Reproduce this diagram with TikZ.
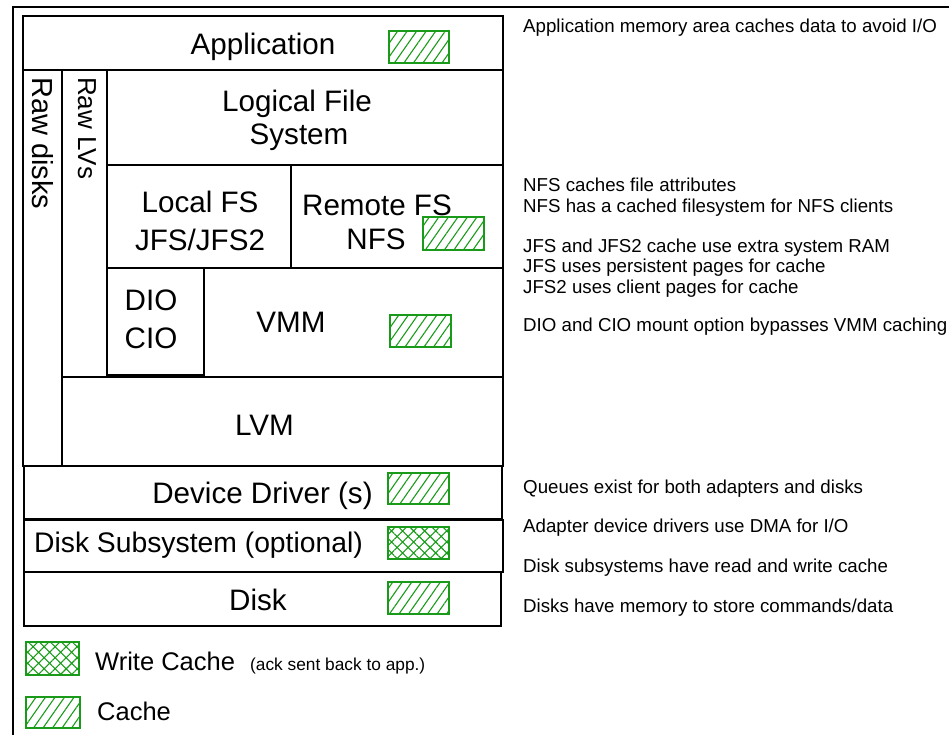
\documentclass[tikz,border=0pt]{standalone}
\usepackage{fontspec}
\setmainfont{Liberation Sans}
\usetikzlibrary{patterns.meta}
\definecolor{cachegreen}{RGB}{25,155,25}
\tikzset{
  layer/.style={draw=black, line width=1.1pt, rectangle, inner sep=0pt, outer sep=0pt, anchor=north west},
  cachebox/.style={draw=cachegreen, line width=1.1pt, rectangle, inner sep=0pt, outer sep=0pt, anchor=north west,
    pattern={Lines[angle=55, distance=7.8pt, line width=1.1pt]}, pattern color=cachegreen},
  wcachebox/.style={draw=cachegreen, line width=1.1pt, rectangle, inner sep=0pt, outer sep=0pt, anchor=north west,
    pattern={Hatch[angle=45, distance=7.8pt, line width=1.1pt]}, pattern color=cachegreen},
  big/.style={font=\fontsize{29.6}{33}\selectfont, anchor=base, inner sep=0pt},
  side/.style={font=\fontsize{29}{33}\selectfont, rotate=-90, anchor=base west, inner sep=0pt},
  note/.style={font=\fontsize{18.7}{21}\selectfont, anchor=base west, inner sep=0pt},
  legend/.style={font=\fontsize{25.5}{29}\selectfont, anchor=base west, inner sep=0pt},
  legendsmall/.style={font=\fontsize{17.3}{21}\selectfont, anchor=base west, inner sep=0pt},
}
\begin{document}
\begin{tikzpicture}[x=1pt, y=-1pt]
\useasboundingbox (0,0) rectangle (949,735);

% outer frame: top and left rules
\coordinate (frameTL) at (13,7);
\coordinate (frameTR) at (949,7);
\coordinate (frameBL) at (13,735);
\draw[line width=1.2pt] (frameTR) -- (frameTL) -- (frameBL);

% layered I/O stack
\node[layer, minimum width=480pt, minimum height=54pt]  (app)      at (23,16)  {};
\node[layer, minimum width=39pt,  minimum height=396pt] (rawdisks) at (23,70)  {};
\node[layer, minimum width=45pt,  minimum height=307pt] (rawlvs)   at (62,70)  {};
\node[layer, minimum width=396pt, minimum height=95pt]  (lfs)      at (107,70) {};
\node[layer, minimum width=184pt, minimum height=103pt] (localfs)  at (107,165) {};
\node[layer, minimum width=212pt, minimum height=103pt] (remotefs) at (291,165) {};
\node[layer, minimum width=97pt,  minimum height=107pt] (dio)      at (107,268) {};
\node[layer, minimum width=299pt, minimum height=109pt] (vmm)      at (204,268) {};
\node[layer, minimum width=441pt, minimum height=89pt]  (lvm)      at (62,377) {};
\node[layer, minimum width=478pt, minimum height=53pt]  (dd)       at (24,466) {};
\node[layer, minimum width=479pt, minimum height=52pt]  (dss)      at (24,520) {};
\node[layer, minimum width=477pt, minimum height=54pt]  (disk)     at (24,572) {};

% layer names
\node[big] (tapp)    at (263,55)  {Application};
\node[side] (traw)   at (32,77)   {Raw disks};
\node[side, font=\fontsize{26}{30}\selectfont] (trawlv) at (78,77) {Raw LVs};
\node[big] (tlfs1)   at (297,112) {Logical File};
\node[big] (tlfs2)   at (299,145) {System};
\node[big] (tloc1)   at (200,213) {Local FS};
\node[big] (tloc2)   at (200,251) {JFS/JFS2};
\node[big] (trem1)   at (377,215) {Remote FS};
\node[big] (trem2)   at (376,249) {NFS};
\node[big] (tdio1)   at (151,310) {DIO};
\node[big] (tdio2)   at (151,348) {CIO};
\node[big] (tvmm)    at (291,332) {VMM};
\node[big] (tlvm)    at (264.5,435) {LVM};
\node[big] (tdd)     at (262.5,503) {Device Driver (s)};
\node[big, font=\fontsize{28.3}{33}\selectfont] (tdss) at (198.5,552) {Disk Subsystem (optional)};
\node[big] (tdisk)   at (258,610) {Disk};

% cache markers
\node[cachebox,  minimum width=60pt, minimum height=32pt] (capp)  at (389,31)  {};
\node[cachebox,  minimum width=61pt, minimum height=33pt] (cnfs)  at (423,217) {};
\node[cachebox,  minimum width=61pt, minimum height=32pt] (cvmm)  at (390,315) {};
\node[cachebox,  minimum width=61pt, minimum height=31pt] (cdd)   at (388,473) {};
\node[wcachebox, minimum width=61pt, minimum height=32pt] (cdss)  at (388,527) {};
\node[cachebox,  minimum width=61pt, minimum height=32pt] (cdisk) at (388,582) {};

% notes
\node[note] (n1)  at (523,33)  {Application memory area caches data to avoid I/O};
\node[note] (n2)  at (523,192) {NFS caches file attributes};
\node[note] (n3)  at (523,213) {NFS has a cached filesystem for NFS clients};
\node[note] (n4)  at (523,252) {JFS and JFS2 cache use extra system RAM};
\node[note] (n5)  at (523,272) {JFS uses persistent pages for cache};
\node[note] (n6)  at (523,293) {JFS2 uses client pages for cache};
\node[note] (n7)  at (523,331) {DIO and CIO mount option bypasses VMM caching};
\node[note] (n8)  at (523,493) {Queues exist for both adapters and disks};
\node[note] (n9)  at (523,532) {Adapter device drivers use DMA for I/O};
\node[note] (n10) at (523,572) {Disk subsystems have read and write cache};
\node[note] (n11) at (523,612) {Disks have memory to store commands/data};

% legend
\node[wcachebox, minimum width=53pt, minimum height=33pt] (lwc) at (26,642) {};
\node[legend] (lwct) at (95,670) {Write Cache};
\node[legendsmall] (lwcs) at (250,670) {(ack sent back to app.)};
\node[cachebox, minimum width=54pt, minimum height=31pt] (lc) at (26,697) {};
\node[legend] (lct) at (97,720) {Cache};
\end{tikzpicture}
\end{document}
